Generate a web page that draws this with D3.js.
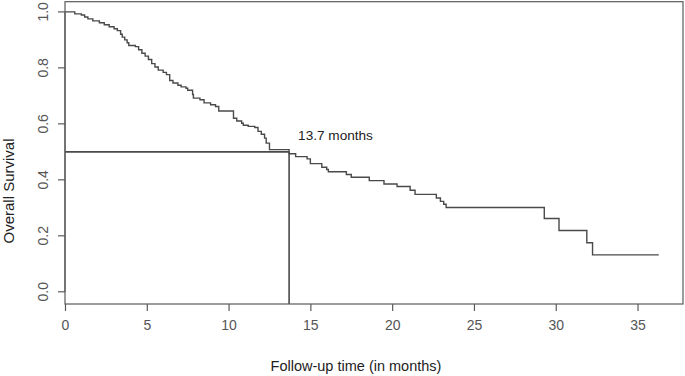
<!DOCTYPE html>
<html>
<head>
<meta charset="utf-8">
<script src="https://cdn.jsdelivr.net/npm/d3@7"></script>
<style>
  body { margin: 0; background: #fff; }
  svg text { font-family: "Liberation Sans", Arial, sans-serif; }
</style>
</head>
<body>
<div id="chart"></div>
<script>
// Kaplan-Meier step data (time in months, survival after the drop)
var eventTimes = [0.6, 1.0, 1.2, 1.4, 1.7, 2.1, 2.4, 2.7, 3.0, 3.2,
  3.4, 3.5, 3.65, 3.8, 3.9, 4.3, 4.5, 4.7, 4.9, 5.1,
  5.3, 5.5, 5.7, 6.0, 6.2, 6.4, 6.6, 6.9, 7.1, 7.4,
  7.5, 7.8, 7.85, 8.25, 8.5, 8.9, 9.2, 9.4, 10.3, 10.5,
  10.8, 10.9, 11.2, 11.6, 11.8, 12.0, 12.2, 12.3, 12.5, 13.7,
  14.1, 14.8, 15.0, 15.7, 16.0, 16.1, 17.2, 17.5, 18.6, 19.5,
  20.3, 21.1, 21.4, 22.7, 22.95, 23.15, 23.3, 29.3, 30.2, 31.9,
  32.25];
var survival = [0.993, 0.989, 0.982, 0.975, 0.968, 0.961, 0.954, 0.947, 0.940, 0.933,
  0.920, 0.910, 0.900, 0.890, 0.880, 0.876, 0.865, 0.852, 0.842, 0.830,
  0.815, 0.803, 0.792, 0.784, 0.776, 0.755, 0.746, 0.738, 0.732, 0.727,
  0.720, 0.705, 0.692, 0.686, 0.675, 0.668, 0.662, 0.646, 0.620, 0.610,
  0.602, 0.595, 0.591, 0.587, 0.573, 0.563, 0.549, 0.531, 0.508, 0.493,
  0.483, 0.475, 0.458, 0.445, 0.437, 0.429, 0.419, 0.409, 0.397, 0.385,
  0.376, 0.363, 0.348, 0.335, 0.323, 0.313, 0.301, 0.262, 0.219, 0.175,
  0.132];
var lastFollowUp = 36.3;
var medianTime = 13.7;
var medianSurv = 0.5;
var xTicks = [0, 5, 10, 15, 20, 25, 30, 35];
var yTicks = [0.0, 0.2, 0.4, 0.6, 0.8, 1.0];

var width = 685, height = 376;
var box = {left: 65, right: 683, top: 1.7, bottom: 304};
var axisColor = "#5a5a5a", lineColor = "#4a4a4a";

var svg = d3.select("#chart").append("svg")
  .attr("width", width)
  .attr("height", height);

var x = d3.scaleLinear().domain([0, 37.78]).range([box.left, box.right]);
var y = d3.scaleLinear().domain([-0.0436, 1.0364]).range([box.bottom, box.top]);

// curve points: start at 1, then the drops, then flat until last follow-up
var pts = [[0, 1]];
eventTimes.forEach(function(t, i){ pts.push([t, survival[i]]); });
pts.push([lastFollowUp, survival[survival.length - 1]]);

var line = d3.line()
  .x(function(d){ return x(d[0]); })
  .y(function(d){ return y(d[1]); })
  .curve(d3.curveStepAfter);

svg.append("path")
  .datum(pts)
  .attr("d", line)
  .attr("fill", "none")
  .attr("stroke", lineColor)
  .attr("stroke-width", 1.4);

// median lines
svg.append("line")
  .attr("x1", x(0)).attr("x2", x(medianTime))
  .attr("y1", y(medianSurv)).attr("y2", y(medianSurv))
  .attr("stroke", lineColor).attr("stroke-width", 1.6);
svg.append("line")
  .attr("x1", x(medianTime)).attr("x2", x(medianTime))
  .attr("y1", y(medianSurv)).attr("y2", box.bottom)
  .attr("stroke", lineColor).attr("stroke-width", 1.6);

svg.append("text")
  .attr("x", x(medianTime) + 9)
  .attr("y", 139.5)
  .attr("font-size", "13.6px")
  .attr("fill", "#222")
  .text(medianTime + " months");

// box
svg.append("rect")
  .attr("x", box.left).attr("y", box.top)
  .attr("width", box.right - box.left)
  .attr("height", box.bottom - box.top)
  .attr("fill", "none")
  .attr("stroke", axisColor)
  .attr("stroke-width", 1.2);

// x axis
var xAxis = svg.append("g")
  .attr("transform", "translate(0," + box.bottom + ")")
  .call(d3.axisBottom(x).tickValues(xTicks).tickSize(7).tickPadding(9).tickFormat(d3.format("d")));
xAxis.select(".domain").remove();
xAxis.selectAll("line").attr("stroke", axisColor).attr("stroke-width", 1.2);
xAxis.selectAll("text")
  .attr("fill", "#555")
  .style("font-size", "14px")
  .style("font-family", "Liberation Sans, Arial, sans-serif");

// y axis, R style: labels parallel to the axis
var yAxis = svg.append("g");
yAxis.append("line")
  .attr("x1", box.left).attr("x2", box.left)
  .attr("y1", y(0)).attr("y2", y(1))
  .attr("stroke", axisColor).attr("stroke-width", 1.2);
yAxis.selectAll(".tick")
  .data(yTicks)
  .enter()
  .append("line")
  .attr("x1", box.left - 7).attr("x2", box.left)
  .attr("y1", function(d){ return y(d); })
  .attr("y2", function(d){ return y(d); })
  .attr("stroke", axisColor).attr("stroke-width", 1.2);
yAxis.selectAll(".lab")
  .data(yTicks)
  .enter()
  .append("text")
  .attr("transform", function(d){ return "translate(47.5," + y(d) + ") rotate(-90)"; })
  .attr("text-anchor", "middle")
  .attr("font-size", "14px")
  .attr("fill", "#555")
  .text(function(d){ return d.toFixed(1); });

// titles
svg.append("text")
  .attr("x", 356)
  .attr("y", 371)
  .attr("text-anchor", "middle")
  .attr("font-size", "14.5px")
  .attr("fill", "#222")
  .text("Follow-up time (in months)");

svg.append("text")
  .attr("transform", "translate(13.5,191) rotate(-90)")
  .attr("text-anchor", "middle")
  .attr("font-size", "15px")
  .attr("fill", "#222")
  .text("Overall Survival");
</script>
</body>
</html>
